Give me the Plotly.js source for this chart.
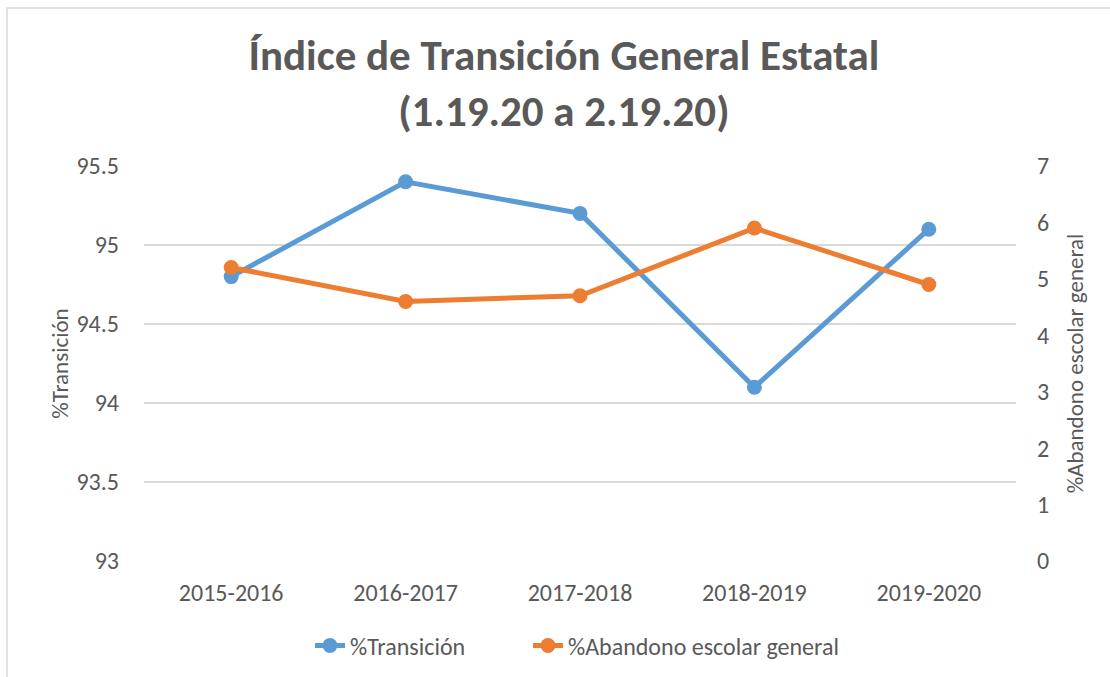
<!DOCTYPE html>
<html>
<head>
<meta charset="utf-8">
<script src="https://cdn.plot.ly/plotly-3.0.1.min.js"></script>
<style>body{margin:0;padding:0;background:#fff;} #chart{width:1110px;height:677px;}</style>
</head>
<body>
<div id="chart"></div>
<script>
const categories = ["2015-2016", "2016-2017", "2017-2018", "2018-2019", "2019-2020"];
const transicion = [94.8, 95.4, 95.2, 94.1, 95.1];
const abandono = [5.2, 4.6, 4.7, 5.9, 4.9];
const leftTicks = [93, 93.5, 94, 94.5, 95, 95.5];
const rightTicks = [0, 1, 2, 3, 4, 5, 6, 7];

const FONT = "Calibri, Carlito, 'Open Sans', sans-serif";
const GRAY = "#595959";

const traces = [
  {
    x: categories, y: transicion, name: "%Transición", type: "scatter", mode: "lines+markers",
    line: {color: "#5B9BD5", width: 5}, marker: {color: "#5B9BD5", size: 15},
    yaxis: "y", legend: "legend"
  },
  {
    x: categories, y: abandono, name: "%Abandono escolar general", type: "scatter", mode: "lines+markers",
    line: {color: "#ED7D31", width: 5}, marker: {color: "#ED7D31", size: 15},
    yaxis: "y2", legend: "legend2"
  }
];

const legendBase = {
  orientation: "h", xref: "paper", xanchor: "left", y: -0.158, yanchor: "top",
  font: {family: FONT, size: 24, color: GRAY}, bgcolor: "rgba(0,0,0,0)"
};

const layout = {
  width: 1110, height: 677,
  margin: {l: 144, r: 94, t: 166, b: 116, autoexpand: false},
  paper_bgcolor: "#fff", plot_bgcolor: "#fff",
  showlegend: true,
  title: {
    text: "<b>Índice de Transición General Estatal<br>(1.19.20 a 2.19.20)</b>",
    font: {family: FONT, size: 43, color: GRAY},
    x: 0.508, xanchor: "center", yref: "container", y: 0.896, yanchor: "middle"
  },
  xaxis: {
    type: "category", range: [-0.5, 4.5],
    showgrid: false, zeroline: false, showline: false,
    ticks: "", ticklabelstandoff: 15, tickfont: {family: FONT, size: 24, color: GRAY},
    fixedrange: true
  },
  yaxis: {
    range: [93, 95.5], tickvals: leftTicks, ticktext: leftTicks.map(String),
    showgrid: true, gridcolor: "#D9D9D9", gridwidth: 1.3, zeroline: false, showline: false,
    ticks: "", ticklabelstandoff: 24,
    tickfont: {family: FONT, size: 24, color: GRAY},
    title: {text: "%Transición", font: {family: FONT, size: 23, color: GRAY}, standoff: 1}
  },
  yaxis2: {
    range: [0, 7], tickvals: rightTicks, overlaying: "y", side: "right",
    showgrid: false, zeroline: false, showline: false, ticks: "",
    ticklabelstandoff: 20,
    tickfont: {family: FONT, size: 24, color: GRAY},
    title: {text: "%Abandono escolar general", font: {family: FONT, size: 23, color: GRAY}, standoff: 18}
  },
  legend: Object.assign({}, legendBase, {x: (310 - 144) / 872}),
  legend2: Object.assign({}, legendBase, {x: (528 - 144) / 872}),
  shapes: [
    {type: "rect", xref: "paper", yref: "paper",
     x0: (7 - 144) / 872, x1: (1130 - 144) / 872, y0: -(690 - 561) / 395, y1: 1 + (166 - 8) / 395,
     line: {color: "#D9D9D9", width: 1.5}, fillcolor: "rgba(0,0,0,0)", layer: "below"}
  ]
};

Plotly.newPlot("chart", traces, layout, {displayModeBar: false, staticPlot: true});
</script>
</body>
</html>
